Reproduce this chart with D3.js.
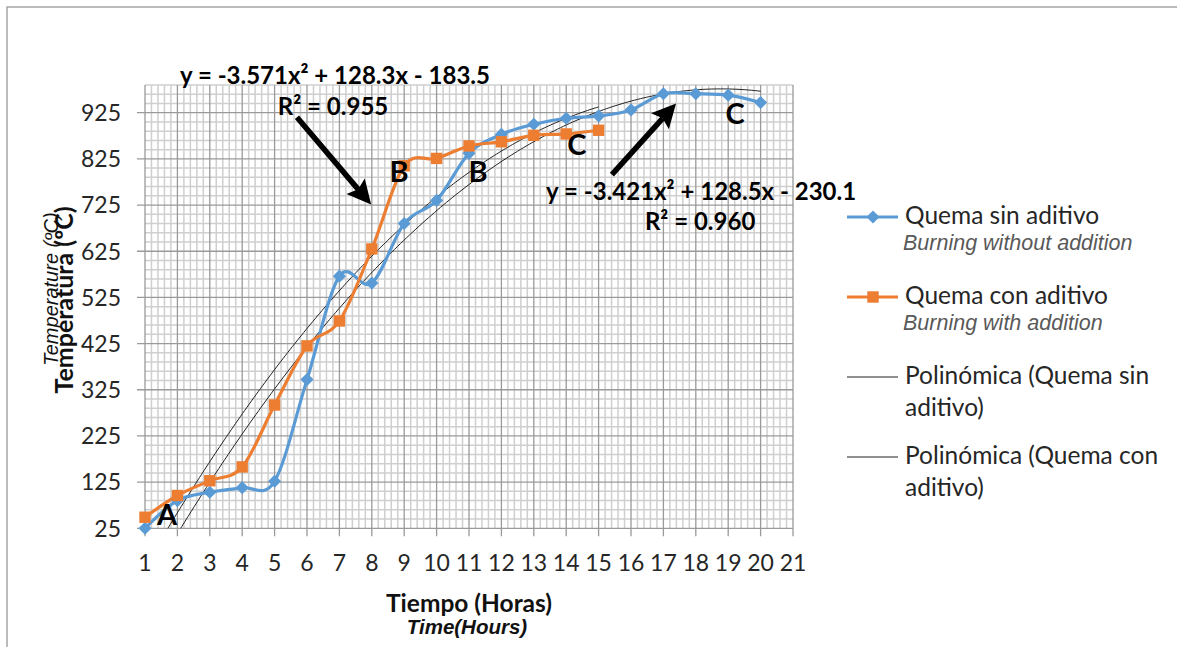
<!DOCTYPE html>
<html><head><meta charset="utf-8">
<script src="https://cdn.jsdelivr.net/npm/d3@7"></script>
<style>body{margin:0;background:#fff}svg{display:block}</style>
</head><body><svg id="c" width="1177" height="647"></svg>
<script>
// ---- data ----
const hoursSin = [1,2,3,4,5,6,7,8,9,10,11,12,13,14,15,16,17,18,19,20];
const tempSin  = [25,85,103,113,127,347,571,556,685,735,837,878,900,913,918,931,966,966,963,947];
const hoursCon = [1,2,3,4,5,6,7,8,9,10,11,12,13,14,15];
const tempCon  = [49,96,128,158,292,420,474,630,810,826,853,862,876,879,887];
// polynomial trendline coefficients as shown on the chart (a, b, c)
const trendSinCoef = [-3.421, 128.5, -230.1];
const trendConCoef = [-3.571, 128.3, -183.5];
const trendSinRange = [1, 20];
const trendConRange = [1, 15];
const xTickLabels = [1,2,3,4,5,6,7,8,9,10,11,12,13,14,15,16,17,18,19,20,21];
const yTickLabels = [25,125,225,325,425,525,625,725,825,925];
const yDomain = [25, 985];

const svg = d3.select("#c");
const W = 1177, H = 647;
const pLeft = 145, pRight = 793, pTop = 85, pBottom = 528.3;
const x = d3.scaleLinear().domain([1,21]).range([pLeft,pRight]);
const y = d3.scaleLinear().domain(yDomain).range([pBottom, pTop]);
const FONT = "Lato, 'Open Sans', sans-serif";
const ARIAL = "'Liberation Sans', Arial, sans-serif";

// outer frame
svg.append("rect").attr("x",7).attr("y",7).attr("width",W).attr("height",H)
  .attr("fill","#fff").attr("stroke","#a6a6a6").attr("stroke-width",1.5);

// grid
const g = svg.append("g");
const minorX = d3.range(0, 101).map(i => 1 + i*0.2).filter(v => Math.abs(v - Math.round(v)) > 1e-6);
const minorY = d3.range(0, 49).map(i => 25 + i*20).filter(v => (v-25) % 100 !== 0);
g.selectAll(".mx").data(minorX).join("line")
  .attr("x1", d=>x(d)).attr("x2", d=>x(d)).attr("y1", pTop).attr("y2", pBottom)
  .attr("stroke","#cfcfcf").attr("stroke-width",1.5);
g.selectAll(".my").data(minorY).join("line")
  .attr("x1", pLeft).attr("x2", pRight).attr("y1", d=>y(d)).attr("y2", d=>y(d))
  .attr("stroke","#cfcfcf").attr("stroke-width",1.5);
g.selectAll(".Mx").data(xTickLabels).join("line")
  .attr("x1", d=>x(d)).attr("x2", d=>x(d)).attr("y1", pTop).attr("y2", pBottom+8)
  .attr("stroke","#9a9a9a").attr("stroke-width",1.3);
g.selectAll(".My").data(yTickLabels).join("line")
  .attr("x1", pLeft-8).attr("x2", pRight).attr("y1", d=>y(d)).attr("y2", d=>y(d))
  .attr("stroke","#9a9a9a").attr("stroke-width",1.3);

// axis labels
svg.append("g").selectAll("text").data(xTickLabels).join("text")
  .attr("x", d=>x(d)).attr("y", 571).attr("text-anchor","middle")
  .attr("font-family",FONT).attr("font-size",23).attr("fill","#262626").text(d=>d);
svg.append("g").selectAll("text").data(yTickLabels).join("text")
  .attr("x", 121).attr("y", d=>y(d)).attr("dy","0.36em").attr("text-anchor","end")
  .attr("font-family",FONT).attr("font-size",23).attr("fill","#262626").text(d=>d);

// axis titles
svg.append("text").attr("x",469).attr("y",612).attr("text-anchor","middle")
  .attr("font-family",FONT).attr("font-weight","bold").attr("font-size",24.5).attr("fill","#111").text("Tiempo (Horas)");
svg.append("text").attr("x",467).attr("y",634).attr("text-anchor","middle")
  .attr("font-family",ARIAL).attr("font-style","italic").attr("font-weight","bold")
  .attr("font-size",20.5).attr("fill","#111").text("Time(Hours)");
svg.append("text").attr("transform","translate(73,300) rotate(-90)").attr("text-anchor","middle")
  .attr("font-family",FONT).attr("font-weight","bold").attr("font-size",25).attr("fill","#111").text("Temperatura (ºC)");
svg.append("text").attr("transform","translate(58,289) rotate(-90)").attr("text-anchor","middle")
  .attr("font-family",ARIAL).attr("font-style","italic")
  .attr("font-size",20).attr("fill","#111").text("Temperature (ºC)");

// clip
svg.append("clipPath").attr("id","plot").append("rect")
  .attr("x",pLeft).attr("y",pTop).attr("width",pRight-pLeft).attr("height",pBottom-pTop);

// trendlines
function poly(c, xv){ return c[0]*xv*xv + c[1]*xv + c[2]; }
function trendPts(c, r){ const n=200; return d3.range(n+1).map(i=>{const xv=r[0]+(r[1]-r[0])*i/n; return [xv, poly(c,xv)];}); }
const tl = d3.line().x(d=>x(d[0])).y(d=>y(d[1]));
svg.append("path").attr("d", tl(trendPts(trendConCoef, trendConRange))).attr("clip-path","url(#plot)")
  .attr("fill","none").attr("stroke","#222").attr("stroke-width",1);
svg.append("path").attr("d", tl(trendPts(trendSinCoef, trendSinRange))).attr("clip-path","url(#plot)")
  .attr("fill","none").attr("stroke","#222").attr("stroke-width",1);

// series
const BLUE = "#5B9BD5", ORANGE = "#ED7D31";
const smooth = d3.line().x(d=>x(d[0])).y(d=>y(d[1])).curve(d3.curveCardinal.tension(0));
const sinData = hoursSin.map((h,i)=>[h, tempSin[i]]);
const conData = hoursCon.map((h,i)=>[h, tempCon[i]]);
svg.append("path").attr("d", smooth(sinData)).attr("fill","none").attr("stroke",BLUE).attr("stroke-width",3.2).attr("stroke-linejoin","round");
svg.append("path").attr("d", smooth(conData)).attr("fill","none").attr("stroke",ORANGE).attr("stroke-width",3.2).attr("stroke-linejoin","round");
const diamond = d3.symbol().type(d3.symbolDiamond2).size(110);
const square = d3.symbol().type(d3.symbolSquare).size(130);
svg.append("g").selectAll("path").data(sinData).join("path")
  .attr("transform", d=>`translate(${x(d[0])},${y(d[1])})`).attr("d", diamond).attr("fill",BLUE);
svg.append("g").selectAll("path").data(conData).join("path")
  .attr("transform", d=>`translate(${x(d[0])},${y(d[1])})`).attr("d", square).attr("fill",ORANGE);

// annotations (in data coordinates)
const letters = [
  {t:"A", x:1.68, y:54},
  {t:"B", x:8.84, y:798},
  {t:"B", x:11.28, y:798},
  {t:"C", x:14.33, y:857},
  {t:"C", x:19.21, y:924}
];
svg.append("g").selectAll("text").data(letters).join("text")
  .attr("x", d=>x(d.x)).attr("y", d=>y(d.y)).attr("dy","0.36em").attr("text-anchor","middle")
  .attr("font-family",FONT).attr("font-weight","bold").attr("font-size",29).attr("fill","#000").text(d=>d.t);

const eqs = [
  {t:"y = -3.571x² + 128.3x - 183.5", x:2.08, y:987},
  {t:"R² = 0.955", x:5.1, y:921},
  {t:"y = -3.421x² + 128.5x - 230.1", x:13.38, y:737},
  {t:"R² = 0.960", x:16.43, y:670}
];
svg.append("g").selectAll("text").data(eqs).join("text")
  .attr("x", d=>x(d.x)).attr("y", d=>y(d.y))
  .attr("font-family",FONT).attr("font-weight","bold").attr("font-size",24).attr("fill","#000").text(d=>d.t);

const arrows = [
  {x1:5.69, y1:915, x2:7.98, y2:726},
  {x1:15.41, y1:791, x2:17.39, y2:945}
];
arrows.forEach(a=>{
  const X1=x(a.x1), Y1=y(a.y1), X2=x(a.x2), Y2=y(a.y2);
  const ang = Math.atan2(Y2-Y1, X2-X1);
  const L=24, Wd=12;
  const bx = X2 - L*Math.cos(ang), by = Y2 - L*Math.sin(ang);
  svg.append("line").attr("x1",X1).attr("y1",Y1).attr("x2",bx+4*Math.cos(ang)).attr("y2",by+4*Math.sin(ang))
    .attr("stroke","#000").attr("stroke-width",5.5);
  const px = -Math.sin(ang), py = Math.cos(ang);
  svg.append("path").attr("d",`M${X2},${Y2}L${bx+px*Wd},${by+py*Wd}L${bx+4*Math.cos(ang)},${by+4*Math.sin(ang)}L${bx-px*Wd},${by-py*Wd}Z`).attr("fill","#000");
});

// legend
const lg = svg.append("g");
function legLine(yy, color){ lg.append("line").attr("x1",847).attr("x2",898).attr("y1",yy).attr("y2",yy).attr("stroke",color).attr("stroke-width",color==="#222"?1.2:3.2); }
legLine(217, BLUE);
lg.append("path").attr("transform","translate(873,217)").attr("d",diamond).attr("fill",BLUE);
legLine(297, ORANGE);
lg.append("path").attr("transform","translate(873,297)").attr("d",square).attr("fill",ORANGE);
legLine(377, "#222");
legLine(457, "#222");
const legText = [
  {t:"Quema sin aditivo", y:224, it:false},
  {t:"Burning without addition", y:250, it:true},
  {t:"Quema con aditivo", y:304, it:false},
  {t:"Burning with addition", y:330, it:true},
  {t:"Polinómica (Quema sin", y:384, it:false},
  {t:"aditivo)", y:416, it:false},
  {t:"Polinómica (Quema con", y:464, it:false},
  {t:"aditivo)", y:496, it:false}
];
lg.selectAll("text").data(legText).join("text")
  .attr("x", d=>d.it?903:905).attr("y", d=>d.y)
  .attr("font-family", d=>d.it?ARIAL:FONT)
  .attr("font-style", d=>d.it?"italic":"normal")
  .attr("font-size", d=>d.it?21.5:24.5)
  .attr("fill", d=>d.it?"#595959":"#262626").text(d=>d.t);
</script></body></html>
